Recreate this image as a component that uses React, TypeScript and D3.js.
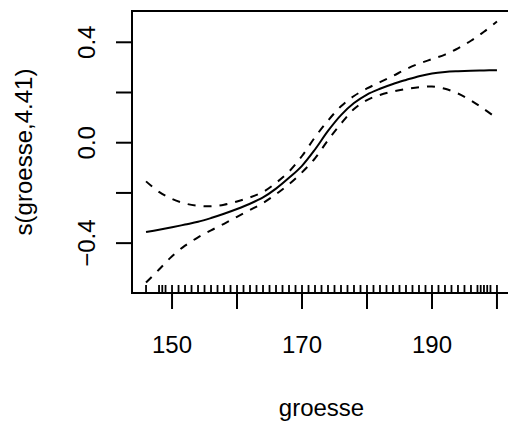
import React from 'react';
import * as d3 from 'd3';

// groesse grid and the smooth s(groesse) with its +/- 2se band
const groesse = [146, 148, 150, 152, 154, 156, 158, 160, 162, 164, 166, 168, 170, 172, 174, 176, 178, 180, 182, 184, 186, 188, 190, 192, 194, 196, 198, 200];
const fit = [-0.356, -0.347, -0.337, -0.326, -0.315, -0.300, -0.283, -0.264, -0.243, -0.218, -0.183, -0.140, -0.092, -0.027, 0.047, 0.110, 0.158, 0.192, 0.215, 0.234, 0.250, 0.265, 0.276, 0.282, 0.285, 0.287, 0.288, 0.289];
const upper = [-0.154, -0.196, -0.224, -0.242, -0.251, -0.253, -0.247, -0.234, -0.218, -0.196, -0.160, -0.115, -0.053, 0.022, 0.088, 0.145, 0.186, 0.216, 0.241, 0.266, 0.293, 0.315, 0.333, 0.351, 0.376, 0.406, 0.442, 0.483];
const lower = [-0.557, -0.505, -0.452, -0.410, -0.377, -0.349, -0.323, -0.295, -0.268, -0.240, -0.205, -0.165, -0.118, -0.062, 0.010, 0.076, 0.134, 0.170, 0.190, 0.204, 0.214, 0.221, 0.224, 0.215, 0.196, 0.168, 0.134, 0.097];

// observed groesse values for the rug
const rugValues = [146, 148, 148.5, 149, 150, 151, 152, 153, 154, 155, 156, 157, 158, 159, 160, 161, 162, 163, 164, 165, 166, 167, 168, 169, 170, 171, 172, 173, 174, 175, 176, 177, 178, 179, 180, 181, 182, 183, 184, 185, 186, 187, 188, 189, 190, 191, 192, 193, 194, 195, 196, 197, 197.5, 198, 198.5, 199, 200];

const xTicks = [150, 160, 170, 180, 190, 200];
const xLabels = [150, 170, 190];
const yTicks = [-0.4, -0.2, 0, 0.2, 0.4];
const yLabels = [-0.4, 0, 0.4];

const width = 508, height = 421;
const left = 132, right = 511, top = 11, bottom = 293;
const font = '"Liberation Sans", Arial, Helvetica, sans-serif';

function extend(lo: number, hi: number) {
  const d = (hi - lo) * 0.04;
  return [lo - d, hi + d];
}

export default function App() {
  const x = d3.scaleLinear()
    .domain(extend(d3.min(groesse)!, d3.max(groesse)!))
    .range([left, right]);
  const y = d3.scaleLinear()
    .domain(extend(d3.min(lower)!, d3.max(upper)!))
    .range([bottom, top]);

  const line = (vals: number[]) =>
    d3.line<number>()
      .x((_, i) => x(groesse[i]))
      .y((d) => y(d))
      .curve(d3.curveCatmullRom)(vals) || '';

  const fmtY = (v: number) => (v < 0 ? '\u2212' : '') + Math.abs(v).toFixed(1);

  return (
    <svg width={width} height={height}
      style={{ position: 'absolute', left: 0, top: 0, background: '#fff' }}
      fontFamily={font}>
      <rect x={0} y={0} width={width} height={height} fill="#fff" />

      <path d={line(fit)} fill="none" stroke="#000" strokeWidth={2} />
      <path d={line(upper)} fill="none" stroke="#000" strokeWidth={2} strokeDasharray="8,8" />
      <path d={line(lower)} fill="none" stroke="#000" strokeWidth={2} strokeDasharray="8,8" />

      {rugValues.map((v, i) => (
        <line key={i} x1={x(v)} x2={x(v)} y1={bottom} y2={bottom - 8} stroke="#000" strokeWidth={1.8} />
      ))}

      <rect x={left} y={top} width={right - left} height={bottom - top} fill="none" stroke="#000" strokeWidth={2} />

      {xTicks.map((t) => (
        <line key={t} x1={x(t)} x2={x(t)} y1={bottom} y2={bottom + 16} stroke="#000" strokeWidth={2} />
      ))}
      {xLabels.map((t) => (
        <text key={t} x={x(t)} y={353} fontSize={24} textAnchor="middle">{t}</text>
      ))}

      {yTicks.map((t) => (
        <line key={t} x1={left} x2={left - 16} y1={y(t)} y2={y(t)} stroke="#000" strokeWidth={2} />
      ))}
      {yLabels.map((t) => (
        <text key={t} transform={`translate(95,${y(t)}) rotate(-90)`} fontSize={24} textAnchor="middle">{fmtY(t)}</text>
      ))}

      <text x={(left + right) / 2} y={416} fontSize={24} textAnchor="middle">groesse</text>
      <text transform={`translate(32,${(top + bottom) / 2}) rotate(-90)`} fontSize={24} textAnchor="middle">s(groesse,4.41)</text>
    </svg>
  );
}
